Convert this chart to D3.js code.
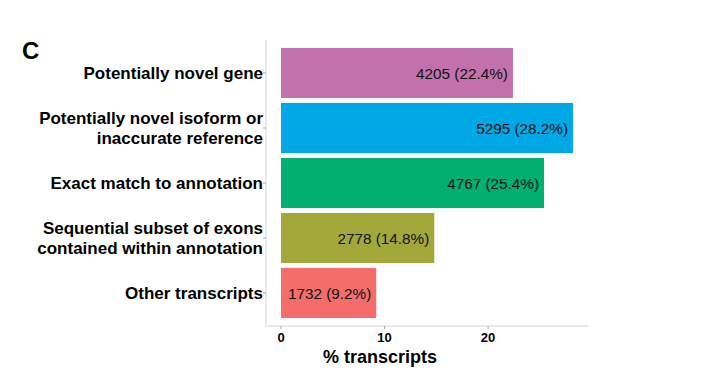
<!DOCTYPE html>
<html>
<head>
<meta charset="utf-8">
<script src="https://cdn.jsdelivr.net/npm/d3@7"></script>
<style>
  body { margin: 0; background: #fff; }
  text { font-family: "Liberation Sans", Arial, Helvetica, sans-serif; }
</style>
</head>
<body>
<script>
// categories top to bottom
var categories = [
  ["Potentially novel gene"],
  ["Potentially novel isoform or", "inaccurate reference"],
  ["Exact match to annotation"],
  ["Sequential subset of exons", "contained within annotation"],
  ["Other transcripts"]
];
var counts = [4205, 5295, 4767, 2778, 1732];
var percents = [22.4, 28.2, 25.4, 14.8, 9.2];
var colors = ["#c371ad", "#00a9e6", "#00af72", "#a3a83a", "#f46d6b"];
var xTicks = [0, 10, 20];

var width = 716, height = 385;
var plot = { left: 266, right: 588, top: 40, bottom: 326 };

var svg = d3.select("body").append("svg")
  .attr("width", width)
  .attr("height", height);

var x = d3.scaleLinear()
  .domain([0, 28.2])
  .range([281, 573]);

var y = d3.scaleBand()
  .domain(d3.range(categories.length))
  .range([45.5, 320.5])
  .paddingInner(0.09)
  .paddingOuter(0.045);

// panel letter
svg.append("text")
  .attr("x", 22).attr("y", 59)
  .attr("font-size", 24).attr("font-weight", "bold")
  .text("C");

// axis lines
svg.append("line")
  .attr("x1", plot.left).attr("x2", plot.left)
  .attr("y1", plot.top).attr("y2", plot.bottom)
  .attr("stroke", "#d4d4d4").attr("stroke-width", 1);
svg.append("line")
  .attr("x1", plot.left).attr("x2", plot.right)
  .attr("y1", plot.bottom).attr("y2", plot.bottom)
  .attr("stroke", "#d4d4d4").attr("stroke-width", 1);

// bars
var bars = svg.append("g").selectAll("g")
  .data(percents)
  .enter().append("g");

bars.append("rect")
  .attr("x", x(0))
  .attr("y", function(d, i){ return y(i); })
  .attr("width", function(d){ return x(d) - x(0); })
  .attr("height", y.bandwidth())
  .attr("fill", function(d, i){ return colors[i]; });

bars.append("text")
  .attr("x", function(d){ return x(d) - 5; })
  .attr("y", function(d, i){ return y(i) + y.bandwidth() / 2; })
  .attr("dy", "0.36em")
  .attr("text-anchor", "end")
  .attr("font-size", 15.3)
  .attr("fill", "#111")
  .text(function(d, i){ return counts[i] + " (" + d + "%)"; });

// y tick marks + labels
var yl = svg.append("g").selectAll("g")
  .data(categories)
  .enter().append("g")
  .attr("transform", function(d, i){ return "translate(0," + (y(i) + y.bandwidth() / 2) + ")"; });

yl.append("line")
  .attr("x1", plot.left - 3).attr("x2", plot.left)
  .attr("stroke", "#aaa");

yl.append("text")
  .attr("text-anchor", "end")
  .attr("font-size", 17)
  .attr("font-weight", "bold")
  .attr("fill", "#000")
  .selectAll("tspan")
  .data(function(d){ return d; })
  .enter().append("tspan")
  .attr("x", plot.left - 3)
  .attr("y", function(t, j, nodes){
    var n = nodes.length;
    return (j - (n - 1) / 2) * 19.5;
  })
  .attr("dy", "0.36em")
  .text(function(t){ return t; });

// x ticks
var xt = svg.append("g").selectAll("g")
  .data(xTicks)
  .enter().append("g")
  .attr("transform", function(d){ return "translate(" + x(d) + "," + plot.bottom + ")"; });

xt.append("line").attr("y1", 0).attr("y2", 3).attr("stroke", "#aaa");
xt.append("text")
  .attr("y", 16)
  .attr("text-anchor", "middle")
  .attr("font-size", 13)
  .attr("font-weight", "bold")
  .text(function(d){ return d; });

// x title
svg.append("text")
  .attr("x", 380).attr("y", 363)
  .attr("text-anchor", "middle")
  .attr("font-size", 18)
  .attr("font-weight", "bold")
  .text("% transcripts");
</script>
</body>
</html>
